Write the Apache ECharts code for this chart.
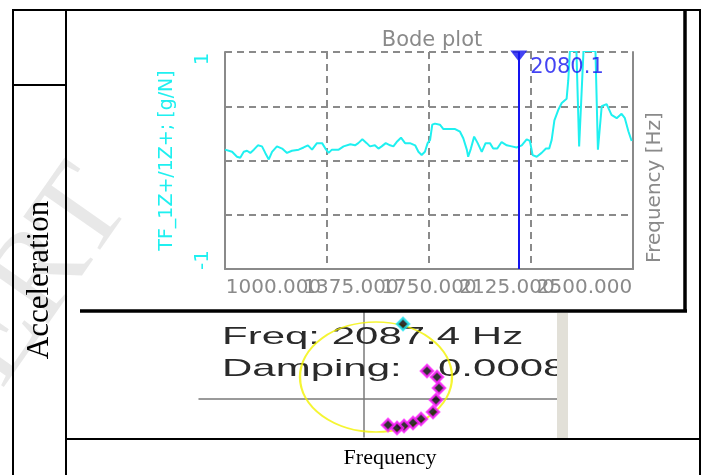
<!DOCTYPE html>
<html>
<head>
<meta charset="utf-8">
<script src="https://cdn.jsdelivr.net/npm/echarts@6/dist/echarts.min.js"></script>
<style>
html, body { margin: 0; padding: 0; background: #fff; }
#main { width: 706px; height: 475px; }
</style>
</head>
<body>
<div id="main"></div>
<script>
// bode trace
var bodeFreq = [1000,1007,1026,1044,1056,1069,1081,1093,1106,1121,
	1136,1148,1161,1173,1191,1210,1228,1246,1271,1289,
	1305,1320,1338,1357,1369,1381,1387,1393,1418,1436,
	1461,1478,1490,1505,1521,1533,1551,1564,1576,1591,
	1607,1619,1631,1647,1662,1680,1699,1711,1723,1735,
	1745,1754,1762,1772,1790,1803,1821,1846,1864,1876,
	1889,1894,1904,1916,1929,1944,1958,1974,1986,2001,
	2017,2036,2054,2072,2091,2109,2121,2131,2146,2164,
	2180,2192,2201,2211,2225,2238,2256,2262,2268,2280,
	2292,2302,2308,2318,2334,2348,2362,2371,2385,2403,
	2421,2440,2458,2470,2483,2495];
var bodeValue = [0.10,0.10,0.08,0.035,0.026,0.08,0.09,0.07,0.10,0.14,
	0.13,0.07,0.01,0.08,0.13,0.11,0.07,0.09,0.10,0.12,
	0.14,0.10,0.16,0.16,0.11,0.07,0.06,0.10,0.10,0.13,
	0.15,0.14,0.16,0.195,0.16,0.13,0.14,0.11,0.13,0.16,
	0.14,0.13,0.17,0.21,0.16,0.16,0.14,0.08,0.05,0.08,
	0.16,0.19,0.33,0.34,0.33,0.29,0.29,0.29,0.265,0.205,
	0.10,0.035,0.11,0.22,0.16,0.08,0.16,0.16,0.11,0.11,
	0.17,0.14,0.13,0.12,0.14,0.195,0.18,0.05,0.035,0.07,
	0.11,0.11,0.19,0.37,0.465,0.53,0.57,0.74,1.01,1.01,
	1.01,0.13,0.14,1.01,1.01,1.01,1.01,0.10,0.50,0.52,
	0.42,0.39,0.43,0.39,0.27,0.18];

var freqTicks = [1000, 1375, 1750, 2125, 2500];
var freqTickLabels = ['1000.000', '1375.000', '1750.000', '2125.000', '2500.000'];
var ampTicks = [-1, -0.5, 0, 0.5, 1];
var ampTickLabels = ['-1', '', '', '', '1'];
var cursorFreq = 2080.1;

// circle fit points (real / imag)
var nyqRe = [0.039, 0.063, 0.073, 0.075, 0.072, 0.069, 0.057, 0.049, 0.040, 0.033, 0.024];
var nyqIm = [0.075, 0.028, 0.022, 0.011, -0.001, -0.013, -0.020, -0.024, -0.027, -0.029, -0.026];
var fitCenter = [0.012, 0.022];
var modeFreq = '2087.4';
var modeDamping = '0.0008';

var chart = echarts.init(document.getElementById('main'));

var bodeFont = 'DejaVu Sans';
var gray = '#8a8a8a';
var cyan = '#1ff0f0';
var blue = '#1414f0';

// the screenshot spreads its overlapping tick labels, shift each one
var padX = [[0,0,0,97],[0,0,0,48],[0,0,0,0],[0,48,0,0],[0,97,0,0]];
var xRich = {};
padX.forEach(function(p, i) {
	xRich['p' + i] = { padding: p, fontFamily: bodeFont, fontSize: 20, color: gray };
});
function freqLabel(v) {
	var i = freqTicks.indexOf(v);
	return '{p' + i + '|' + freqTickLabels[i] + '}';
}
// two axes so the overlapping labels are not dropped
var evenTicks = freqTicks.filter(function(v, i) { return i % 2 === 0; });
var oddTicks = freqTicks.filter(function(v, i) { return i % 2 === 1; });

var bodeData = bodeFreq.map(function(f, i) { return [f, bodeValue[i]]; });
var nyqData = nyqRe.map(function(r, i) {
	var d = { value: [r, nyqIm[i]] };
	if (i === 0) d.itemStyle = { borderColor: '#22e6f0' };
	return d;
});

function line(x1, y1, x2, y2, w) {
	return { type: 'line', z: 20, shape: { x1: x1, y1: y1, x2: x2, y2: y2 }, style: { stroke: '#000', lineWidth: w || 2 } };
}

var option = {
	animation: false,
	title: {
		text: 'Bode plot', left: 427, top: 25, textAlign: 'center',
		textStyle: { fontFamily: bodeFont, fontSize: 21, fontWeight: 'normal', color: gray }
	},
	grid: [
		{ left: 225, top: 52, width: 408, height: 217 },
		{ left: 199, top: 312, width: 358, height: 125 }
	],
	xAxis: [
		{
			gridIndex: 0, type: 'value', min: 1000, max: 2500, position: 'bottom',
			axisLine: { onZero: false, lineStyle: { color: gray, width: 2 } },
			axisTick: { show: false, customValues: freqTicks },
			splitLine: { show: true, lineStyle: { color: gray, width: 2, type: [7, 5] } },
			axisLabel: {
				margin: 9, customValues: evenTicks,
				showMinLabel: true, showMaxLabel: true, hideOverlap: false,
				formatter: freqLabel, rich: xRich
			}
		},
		{
			gridIndex: 1, type: 'value', min: -0.165, max: 0.193,
			axisLine: { onZero: true, lineStyle: { color: '#7a7a7a', width: 1.5 } },
			axisTick: { show: false }, axisLabel: { show: false }, splitLine: { show: false }
		},
		{
			gridIndex: 0, type: 'value', min: 1000, max: 2500, position: 'bottom', offset: 0,
			axisLine: { show: false, onZero: false },
			axisTick: { show: false }, splitLine: { show: false },
			axisLabel: {
				margin: 9, customValues: oddTicks, hideOverlap: false,
				formatter: freqLabel, rich: xRich
			}
		}
	],
	yAxis: [
		{
			gridIndex: 0, type: 'value', min: -1, max: 1, interval: 0.5,
			axisLine: { show: true, onZero: false, lineStyle: { color: gray, width: 2 } },
			axisTick: { show: false },
			splitLine: { show: true, lineStyle: { color: gray, width: 2, type: [7, 5] } },
			axisLabel: {
				rotate: 90, margin: 12, showMinLabel: true, showMaxLabel: true,
				formatter: function(v) {
					var t = ampTickLabels[ampTicks.indexOf(v)];
					if (!t) return '';
					return v > 0 ? '{t|' + t + '}' : '{b|' + t + '}';
				},
				rich: {
					t: { padding: [0, 14, 0, 0], fontFamily: bodeFont, fontSize: 20, color: cyan },
					b: { padding: [0, 0, 0, 18], fontFamily: bodeFont, fontSize: 20, color: cyan }
				}
			},
			name: 'TF_1Z+/1Z+; [g/N]', nameLocation: 'middle', nameRotate: 90, nameGap: 48,
			nameTextStyle: { fontFamily: bodeFont, fontSize: 19, color: cyan }
		},
		{
			gridIndex: 0, type: 'value', position: 'right', min: -1, max: 1,
			axisLine: { show: true, onZero: false, lineStyle: { color: gray, width: 2 } },
			axisTick: { show: false }, axisLabel: { show: false }, splitLine: { show: false },
			name: 'Frequency [Hz]', nameLocation: 'middle', nameRotate: 90, nameGap: 12,
			nameTextStyle: { fontFamily: bodeFont, fontSize: 20, color: gray, padding: [0, 54, 0, 0] }
		},
		{
			gridIndex: 1, type: 'value', min: -0.038, max: 0.087,
			axisLine: { onZero: true, lineStyle: { color: '#7a7a7a', width: 1.5 } },
			axisTick: { show: false }, axisLabel: { show: false }, splitLine: { show: false }
		}
	],
	series: [
		{
			type: 'line', xAxisIndex: 0, yAxisIndex: 0, data: bodeData,
			showSymbol: false, clip: true,
			lineStyle: { color: cyan, width: 2 },
			markLine: {
				silent: true, symbol: ['none', 'none'],
				label: { show: false },
				lineStyle: { color: blue, width: 2, type: 'solid' },
				data: [{ xAxis: cursorFreq }]
			}
		},
		{
			type: 'scatter', xAxisIndex: 0, yAxisIndex: 0, clip: false, z: 5,
			data: [[cursorFreq, 1]],
			symbol: 'triangle', symbolRotate: 180, symbolSize: [17, 11], symbolOffset: [0, 4],
			itemStyle: { color: blue },
			label: {
				show: true, position: 'right', distance: 3, offset: [0, 12],
				formatter: String(cursorFreq),
				fontFamily: bodeFont, fontSize: 21, color: blue
			}
		},
		{
			type: 'scatter', xAxisIndex: 1, yAxisIndex: 2, z: 3,
			data: [fitCenter],
			symbol: 'circle', symbolSize: [152, 110],
			itemStyle: { color: 'rgba(0,0,0,0)', borderColor: '#f2f200', borderWidth: 2 }
		},
		{
			type: 'scatter', xAxisIndex: 1, yAxisIndex: 2, z: 4,
			data: nyqData,
			symbol: 'diamond', symbolSize: 12,
			itemStyle: { color: '#000', borderColor: '#ff22ff', borderWidth: 2.5 }
		}
	],
	graphic: [
		{
			type: 'text', x: 106, y: 184, rotation: 0.96, z: 0,
			style: { text: 'IJERT', fontFamily: 'Liberation Serif', fontSize: 125, fill: 'rgba(140,140,140,0.2)', align: 'right', verticalAlign: 'middle' }
		},
		{
			type: 'text', x: 222, y: 337, scaleX: 1.75, z: 1,
			style: { text: 'Freq: ' + modeFreq + ' Hz', fontFamily: 'Liberation Sans', fontSize: 24, fill: '#2a2a2a', align: 'left', verticalAlign: 'middle' }
		},
		{
			type: 'text', x: 222, y: 369, scaleX: 1.75, z: 1,
			style: { text: 'Damping:', fontFamily: 'Liberation Sans', fontSize: 24, fill: '#2a2a2a', align: 'left', verticalAlign: 'middle' }
		},
		{
			type: 'text', x: 438, y: 369, scaleX: 1.75, z: 1,
			style: { text: modeDamping, fontFamily: 'Liberation Sans', fontSize: 24, fill: '#2a2a2a', align: 'left', verticalAlign: 'middle' }
		},
		{ type: 'rect', z: 8, shape: { x: 568, y: 313, width: 116, height: 125 }, style: { fill: '#fff' } },
		{ type: 'rect', z: 8, shape: { x: 557, y: 313, width: 11, height: 125 }, style: { fill: '#e2e0d8' } },
		{
			type: 'text', x: 40, y: 280, rotation: Math.PI / 2, z: 20,
			style: { text: 'Acceleration', fontFamily: 'Liberation Serif', fontSize: 31, fill: '#000', align: 'center', verticalAlign: 'middle' }
		},
		{
			type: 'text', x: 390, y: 458, z: 20,
			style: { text: 'Frequency', fontFamily: 'Liberation Serif', fontSize: 22, fill: '#000', align: 'center', verticalAlign: 'middle' }
		},
		line(13, 10, 700, 10),
		line(13, 9, 13, 475),
		line(66, 9, 66, 475),
		line(700, 9, 700, 475),
		line(13, 85, 66, 85),
		line(66, 439, 700, 439),
		line(685, 10, 685, 312, 3.5),
		line(80, 311, 687, 311, 3.5)
	]
};

chart.setOption(option);
</script>
</body>
</html>
